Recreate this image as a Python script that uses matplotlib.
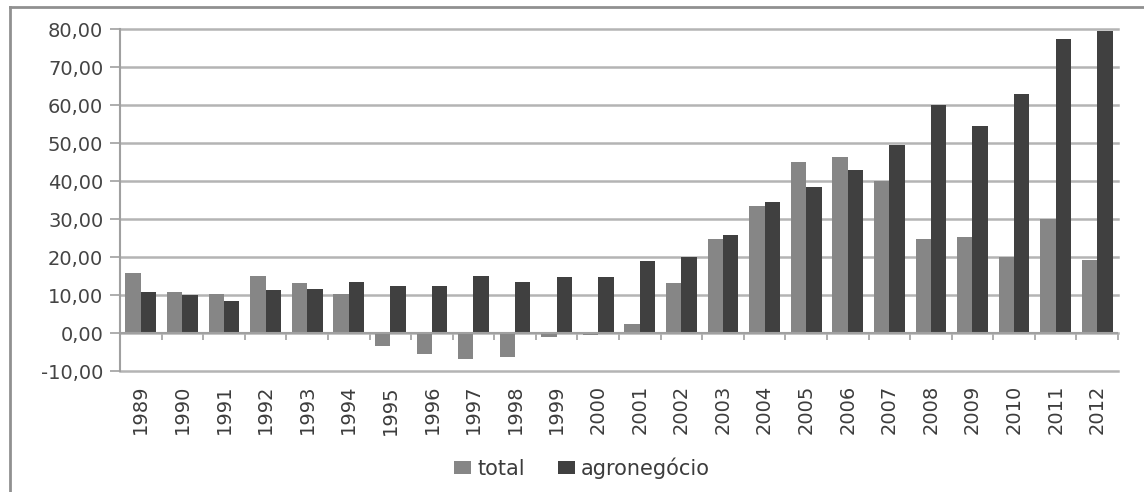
import matplotlib
matplotlib.use("Agg")
import matplotlib.pyplot as plt
import numpy as np
from matplotlib.lines import Line2D

years = [str(y) for y in range(1989, 2013)]
total = [15.7, 10.8, 10.3, 15.0, 13.1, 10.3, -3.3, -5.5, -6.8, -6.4, -1.1, -0.5,
         2.5, 13.1, 24.8, 33.5, 44.9, 46.4, 40.0, 24.8, 25.2, 20.1, 30.0, 19.2]
agro = [10.8, 10.0, 8.5, 11.3, 11.7, 13.4, 12.4, 12.4, 15.0, 13.5, 14.8, 14.8,
        18.9, 20.1, 25.7, 34.4, 38.5, 42.8, 49.6, 59.9, 54.6, 62.8, 77.3, 79.5]
yticks = [-10, 0, 10, 20, 30, 40, 50, 60, 70, 80]
ytick_labels = ["-10,00", "0,00", "10,00", "20,00", "30,00", "40,00", "50,00",
                "60,00", "70,00", "80,00"]

plt.rcParams['font.family'] = ['DejaVu Sans']

fig = plt.figure(figsize=(11.44, 4.92), dpi=100)
ax = fig.add_axes([0.1049, 0.2459, 0.9773 - 0.1049, 0.941 - 0.2459])

x = np.arange(len(years))
w = 0.37
ax.bar(x - w / 2, total, width=w, color='#868686', label='total', zorder=3)
ax.bar(x + w / 2, agro, width=w, color='#404040', label='agronegócio', zorder=3)

ax.set_xlim(-0.5, len(years) - 0.5)
ax.set_ylim(-10, 80)
ax.set_yticks(yticks)
ax.set_yticklabels(ytick_labels, fontsize=14, color='#444444')
ax.yaxis.grid(True, color='#b4b4b4', linewidth=1.8, zorder=0)
for gl in ax.get_ygridlines():
    gl.set_clip_on(False)
ax.tick_params(axis='y', length=7, width=1.2, color='#a0a0a0', pad=5)

ax.set_xticks(x)
ax.set_xticklabels(years, rotation=90, fontsize=14, color='#3c3c3c')
ax.tick_params(axis='x', length=0, pad=10)

for s in ['top', 'right', 'bottom']:
    ax.spines[s].set_visible(False)
ax.spines['left'].set_color('#a0a0a0')
ax.spines['left'].set_linewidth(1.5)

# zero line with category boundary ticks
ax.axhline(0, color='#a0a0a0', linewidth=1.5, zorder=4)
sec = ax.secondary_xaxis(0, transform=ax.transData)
sec.set_xticks(np.arange(-0.5, len(years) + 0.5, 1))
sec.set_xticklabels([])
sec.tick_params(length=5, width=1.2, color='#a0a0a0')
sec.spines['bottom'].set_visible(False)

# outer frame
fig.add_artist(Line2D([10 / 1144, 10 / 1144], [0, 1 - 7 / 492], color='#909090', linewidth=2))
fig.add_artist(Line2D([10 / 1144, 1], [1 - 7 / 492, 1 - 7 / 492], color='#909090', linewidth=2))

handles, labels = ax.get_legend_handles_labels()
fig.legend(handles, labels, loc='center', bbox_to_anchor=(0.509, 1 - 468 / 492),
           ncol=2, frameon=False, fontsize=15, handlelength=0.8, handleheight=0.6,
           handletextpad=0.3, columnspacing=1.6, labelcolor='#3c3c3c')

fig.savefig('out.png', dpi=100)
